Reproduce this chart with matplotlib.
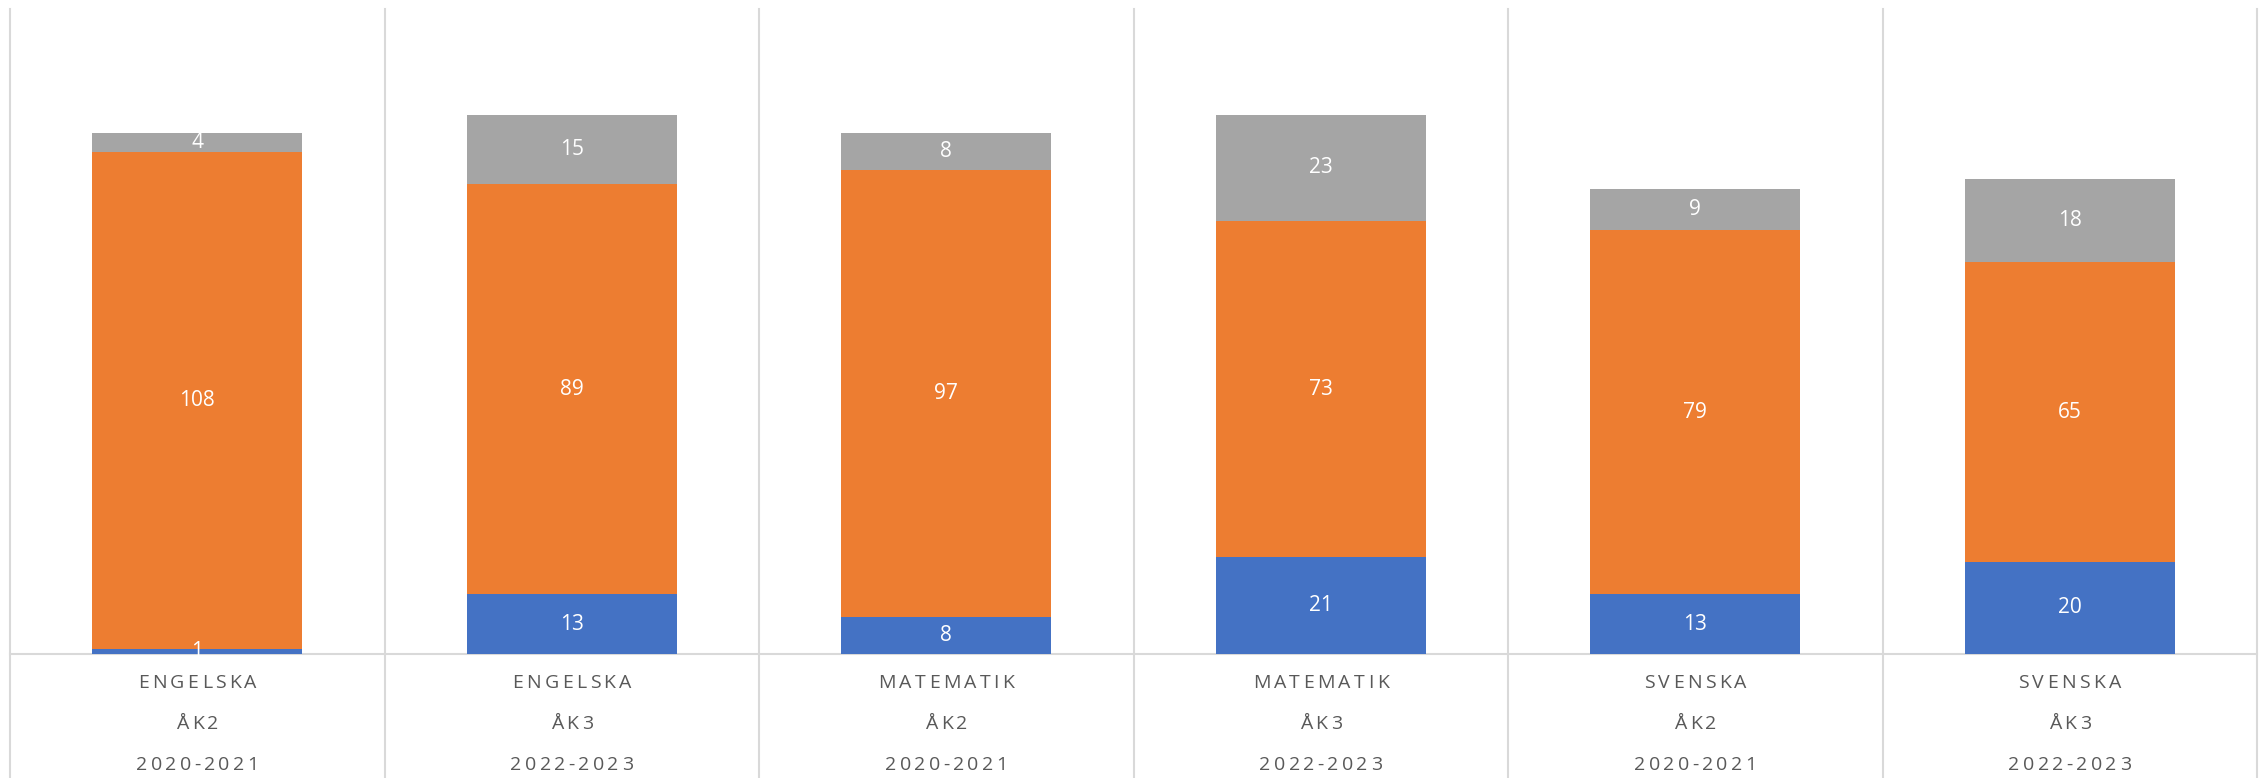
import matplotlib
matplotlib.use("Agg")
import matplotlib.pyplot as plt
import numpy as np

subjects = ["ENGELSKA", "ENGELSKA", "MATEMATIK", "MATEMATIK", "SVENSKA", "SVENSKA"]
grades = ["ÅK2", "ÅK3", "ÅK2", "ÅK3", "ÅK2", "ÅK3"]
years = ["2020-2021", "2022-2023", "2020-2021", "2022-2023", "2020-2021", "2022-2023"]
series_blue = [1, 13, 8, 21, 13, 20]
series_orange = [108, 89, 97, 73, 79, 65]
series_gray = [4, 15, 8, 23, 9, 18]

colors = ["#4472C4", "#ED7D31", "#A5A5A5"]
label_color = "#595959"
grid_color = "#D9D9D9"
font = ["Open Sans", "DejaVu Sans"]

W, H = 2264, 778
fig = plt.figure(figsize=(W / 100, H / 100), dpi=100)
ax = fig.add_axes([10 / W, 1 - 654 / H, 2247 / W, 645 / H])

x = np.arange(len(subjects))
bw = 0.56
bottom = np.zeros(len(x))
for vals, c in zip([series_blue, series_orange, series_gray], colors):
    vals = np.array(vals, dtype=float)
    ax.bar(x, vals, bw, bottom=bottom, color=c, zorder=3)
    for xi, b, v in zip(x, bottom, vals):
        ax.text(xi, b + v / 2, f"{int(v)}", ha="center", va="center",
                color="white", fontsize=15, family=font, zorder=4)
    bottom += vals

ax.set_xlim(-0.5, len(x) - 0.5)
ax.set_ylim(0, 140)
ax.axis("off")

# baseline
ax.axhline(0, color=grid_color, lw=1.5, zorder=2, clip_on=False)
# category separators extending through label area
tr = ax.get_xaxis_transform()
for b in np.arange(-0.5, len(x), 1.0):
    ax.plot([b, b], [-0.2, 1.0], transform=tr, color=grid_color, lw=1.5,
            clip_on=False, zorder=1)

renderer = fig.canvas.get_renderer()
fs = 14
tracking_px = 3.3
_wcache = {}
def char_w(ch):
    if ch not in _wcache:
        t2 = fig.text(0, 0, "H" + ch + "H", fontsize=fs, family=font)
        t3 = fig.text(0, 0, "HH", fontsize=fs, family=font)
        w = t2.get_window_extent(renderer).width - t3.get_window_extent(renderer).width
        t2.remove()
        t3.remove()
        _wcache[ch] = w
    return _wcache[ch]

def tracked_text(xc, yy, s):
    widths = [char_w(c) for c in s]
    total = sum(widths) + tracking_px * (len(s) - 1)
    pos = -total / 2
    for c, w in zip(s, widths):
        cx = pos + w / 2
        ax.annotate(c, xy=(xc, yy), xycoords=tr,
                    xytext=(cx * 72 / 100, 0), textcoords="offset points",
                    ha="center", va="center", color=label_color,
                    fontsize=fs, family=font, annotation_clip=False)
        pos += w + tracking_px

ypos = [-(683 - 654) / 645, -(724 - 654) / 645, -(765 - 654) / 645]
for xi, s, g, yr in zip(x, subjects, grades, years):
    for txt, yy in zip([s, g, yr], ypos):
        tracked_text(xi, yy, txt)

fig.savefig("out.png", dpi=100)
